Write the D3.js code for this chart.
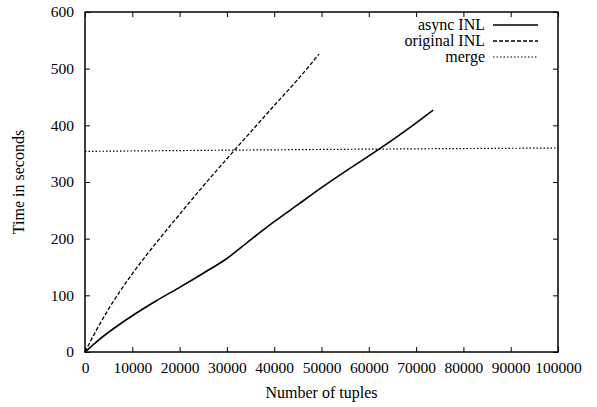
<!DOCTYPE html>
<html>
<head>
<meta charset="utf-8">
<script src="https://cdn.jsdelivr.net/npm/d3@7"></script>
<style>
  html, body { margin: 0; padding: 0; background: #fff; }
  svg { display: block; }
  svg text { font-family: "Liberation Serif", "Times New Roman", serif; fill: #000; }
</style>
</head>
<body>
<svg id="chart" width="597" height="407"></svg>
<script>
// Series: number of tuples vs. time in seconds
const asyncX = [0, 3000, 6000, 10000, 15000, 20000, 25000, 30000, 35000, 40000, 45000, 50000, 56000, 62000, 68000, 73600];
const asyncY = [0, 22, 41, 64, 90, 114, 139, 165, 198, 230, 260, 290, 324, 357, 392, 427];

const originalX = [0, 2500, 5000, 10000, 15000, 20000, 25000, 30000, 35000, 40000, 45000, 49500];
const originalY = [0, 40, 76, 138, 192, 243, 293, 341, 388, 435, 481, 526];

const mergeX = [0, 35000, 100000];
const mergeY = [354, 356.5, 360];

const xTicks = [0, 10000, 20000, 30000, 40000, 50000, 60000, 70000, 80000, 90000, 100000];
const yTicks = [0, 100, 200, 300, 400, 500, 600];

const legendLabels = ["async INL", "original INL", "merge"];

const svg = d3.select("#chart");
const L = 85, R = 558, T = 12, B = 352;

const x = d3.scaleLinear().domain([0, 100000]).range([L, R]);
const y = d3.scaleLinear().domain([0, 600]).range([B, T]);

const tickLen = 5;
const tickFont = 15.5;
const wordFont = 16;
const serif = "'Liberation Serif', 'Times New Roman', serif";

// Axes with inward ticks on all four sides
function styleAxis(g, showLabels) {
  g.attr("font-family", serif);
  g.select(".domain").remove();
  g.selectAll(".tick line").attr("stroke", "#000").attr("stroke-width", 1);
  g.selectAll(".tick text")
    .attr("font-family", serif)
    .attr("font-size", tickFont)
    .attr("fill", "#000");
  if (!showLabels) g.selectAll(".tick text").remove();
}

svg.append("g")
  .attr("transform", `translate(0,${B})`)
  .call(d3.axisBottom(x).tickValues(xTicks).tickFormat(d3.format("d")).tickSizeInner(-tickLen).tickSizeOuter(0).tickPadding(10))
  .call(g => styleAxis(g, true));

svg.append("g")
  .attr("transform", `translate(0,${T})`)
  .call(d3.axisTop(x).tickValues(xTicks).tickSizeInner(-tickLen).tickSizeOuter(0))
  .call(g => styleAxis(g, false));

svg.append("g")
  .attr("transform", `translate(${L},0)`)
  .call(d3.axisLeft(y).tickValues(yTicks).tickSizeInner(-tickLen).tickSizeOuter(0).tickPadding(11))
  .call(g => styleAxis(g, true));

svg.append("g")
  .attr("transform", `translate(${R},0)`)
  .call(d3.axisRight(y).tickValues(yTicks).tickSizeInner(-tickLen).tickSizeOuter(0))
  .call(g => styleAxis(g, false));

// Plot frame
svg.append("rect")
  .attr("x", L).attr("y", T)
  .attr("width", R - L).attr("height", B - T)
  .attr("fill", "none").attr("stroke", "#000").attr("stroke-width", 1.5);

// Series lines
const line = d3.line().x(d => x(d[0])).y(d => y(d[1])).curve(d3.curveMonotoneX);
const series = [
  { pts: d3.zip(asyncX, asyncY), dash: null, width: 1.6 },
  { pts: d3.zip(originalX, originalY), dash: "4,2", width: 1.3 },
  { pts: d3.zip(mergeX, mergeY), dash: "1.5,2", width: 1.2 }
];

series.forEach(s => {
  svg.append("path")
    .attr("d", line(s.pts))
    .attr("fill", "none")
    .attr("stroke", "#000")
    .attr("stroke-width", s.width)
    .attr("stroke-dasharray", s.dash);
});

// Legend
const legendY = [25, 41, 57];
legendLabels.forEach((lab, i) => {
  svg.append("text")
    .attr("x", 485).attr("y", legendY[i] + 5)
    .attr("text-anchor", "end")
    .attr("font-family", serif)
    .attr("font-size", wordFont)
    .text(lab);
  svg.append("line")
    .attr("x1", 493).attr("x2", 538)
    .attr("y1", legendY[i]).attr("y2", legendY[i])
    .attr("stroke", "#000")
    .attr("stroke-width", series[i].width)
    .attr("stroke-dasharray", series[i].dash);
});

// Axis titles
svg.append("text")
  .attr("x", (L + R) / 2).attr("y", 398)
  .attr("text-anchor", "middle")
  .attr("font-family", serif)
  .attr("font-size", wordFont)
  .text("Number of tuples");

svg.append("text")
  .attr("transform", `translate(24,${(T + B) / 2}) rotate(-90)`)
  .attr("text-anchor", "middle")
  .attr("font-family", serif)
  .attr("font-size", wordFont)
  .text("Time in seconds");
</script>
</body>
</html>
